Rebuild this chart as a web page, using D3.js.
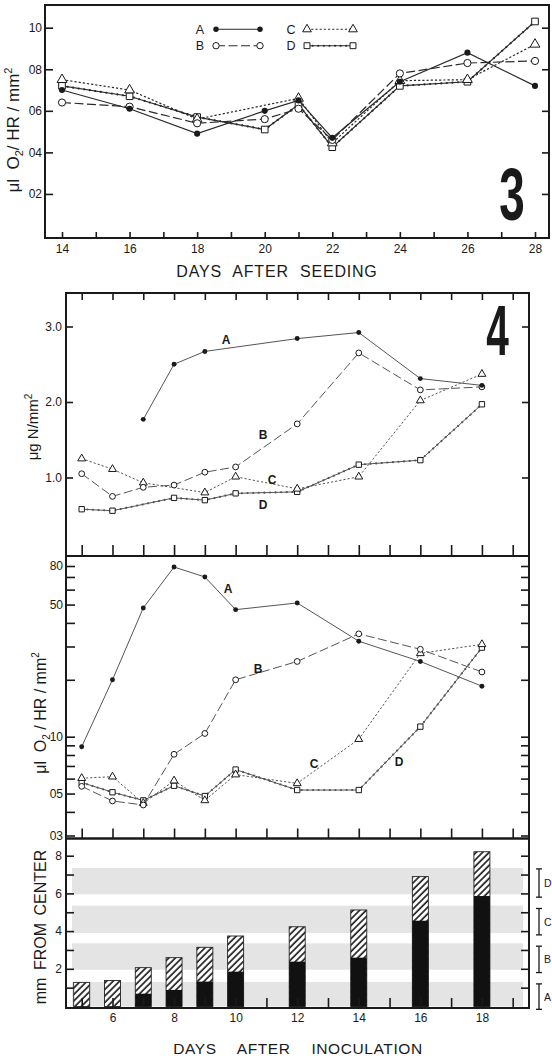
<!DOCTYPE html>
<html><head><meta charset="utf-8">
<script src="https://cdn.jsdelivr.net/npm/d3@7"></script>
<style>
body{margin:0;background:#fff}
svg{display:block}
text{font-family:"Liberation Sans",Arial,sans-serif;fill:#1a1a1a}
</style>
</head><body>
<svg id="c" width="552" height="1059"></svg>
<script>
// ================= DATA =================
// Fig. 3 : O2 uptake vs days after seeding
const seriesKeys = ["A","B","C","D"];
const f3DaysA = [14,16,18,20,21,22,24,26,28];
const f3A = [0.70,0.61,0.49,0.60,0.65,0.47,0.74,0.88,0.72];
const f3DaysB = [14,16,18,20,21,22,24,26,28];
const f3B = [0.64,0.62,0.54,0.56,0.61,0.46,0.78,0.83,0.84];
const f3DaysC = [14,16,18,21,22,24,26,28];
const f3C = [0.75,0.70,0.56,0.66,0.445,0.745,0.75,0.92];
const f3DaysD = [14,16,18,20,21,22,24,26,28];
const f3D = [0.72,0.67,0.57,0.51,0.63,0.425,0.72,0.74,1.03];
const f3XTicks = [14,15,16,17,18,19,20,21,22,23,24,25,26,27,28];
const f3XLabels = [14,16,18,20,22,24,26,28];
const f3YTicks = [0.2,0.4,0.6,0.8,1.0];
const f3YLabels = ["02","04","06","08","10"];

// Fig. 4 top : ug N / mm2
const nDaysA = [7,8,9,12,14,16,18];
const nA = [1.77,2.50,2.67,2.84,2.92,2.31,2.22];
const nDaysB = [5,6,7,8,9,10,12,14,16,18];
const nB = [1.05,0.75,0.87,0.90,1.07,1.14,1.71,2.65,2.16,2.20];
const nDaysC = [5,6,7,9,10,12,14,16,18];
const nC = [1.25,1.11,0.93,0.80,1.01,0.85,1.01,2.02,2.37];
const nDaysD = [5,6,8,9,10,12,14,16,18];
const nD = [0.58,0.56,0.73,0.70,0.79,0.81,1.17,1.23,1.97];
const nYTicks = [1,2,3];
const nYLabels = ["1.0","2.0","3.0"];

// Fig. 4 middle : ul O2 / HR / mm2 (log)
const oDays = [5,6,7,8,9,10,12,14,16,18];
const oA = [8.85,20,48,79,70,47,51,32,25,18.5];
const oB = [5.46,4.57,4.35,8.07,10.4,20,25,35,29,22];
const oC = [6.03,6.14,4.45,5.85,4.6,6.3,5.66,9.7,27.6,30.8];
const oD = [5.72,5.08,4.6,5.5,4.85,6.7,5.22,5.22,11.3,29.6];
const oMinorTicks = [3,4,5,6,7,8,9,10,20,30,40,50,60,70,80];
const oLabelTicks = [3,5,10,50,80];
const oLabels = ["03","05","10","50","80"];

// Fig. 4 bottom : mm from center
const barDays = [5,6,7,8,9,10,12,14,16,18];
const barTotal = [1.28,1.38,2.06,2.59,3.14,3.74,4.23,5.12,6.89,8.21];
const barBlack = [0,0,0.68,0.88,1.32,1.85,2.38,2.59,4.55,5.86];
const bandLo = [0,1.95,3.9,5.95];
const bandHi = [1.3,3.35,5.35,7.35];
const bracketLo = [-0.15,1.8,3.8,5.8];
const bracketHi = [1.2,3.2,5.2,7.3];
const bYTicks = [1,2,3,4,5,6,7,8];
const bYLabels = [2,4,6,8];
const f4XTicks = [5,6,7,8,9,10,11,12,13,14,15,16,17,18,19];
const f4XLabels = [6,8,10,12,14,16,18];

// ================= DRAWING =================
const svg = d3.select("#c");
const INK = "#1a1a1a";

const defs = svg.append("defs");
const pat = defs.append("pattern").attr("id","hatch").attr("patternUnits","userSpaceOnUse")
  .attr("width",4.6).attr("height",4.6).attr("patternTransform","rotate(45)");
pat.append("rect").attr("width",4.6).attr("height",4.6).attr("fill","#fff");
pat.append("line").attr("x1",1).attr("x2",1).attr("y1",0).attr("y2",4.6)
  .attr("stroke","#222").attr("stroke-width",1.7);

const lineStyle = {
  A:{dash:null}, B:{dash:"9,3.5"}, C:{dash:"2.2,2"}, D:{dash:null}
};

function marker(g, key, px, py, s){
  if(key==="A"){
    g.append("circle").attr("cx",px).attr("cy",py).attr("r",s*0.85).attr("fill",INK);
  } else if(key==="B"){
    g.append("circle").attr("cx",px).attr("cy",py).attr("r",s).attr("fill","#fff")
      .attr("stroke",INK).attr("stroke-width",1);
  } else if(key==="C"){
    g.append("path").attr("transform",`translate(${px},${py})`)
      .attr("d",d3.symbol().type(d3.symbolTriangle).size(s*s*3.2)())
      .attr("fill","#fff").attr("stroke",INK).attr("stroke-width",1);
  } else {
    g.append("path").attr("transform",`translate(${px},${py})`)
      .attr("d",d3.symbol().type(d3.symbolSquare).size(s*s*3.4)())
      .attr("fill","#fff").attr("stroke",INK).attr("stroke-width",1);
  }
}

function series(g, key, days, vals, x, y, o){
  const pts = days.map((d,i)=>[x(d), y(vals[i])]);
  const line = d3.line();
  const p = g.append("path").attr("d",line(pts)).attr("fill","none")
    .attr("stroke",o.color).attr("stroke-width",o.w);
  if(lineStyle[key].dash) p.attr("stroke-dasharray",lineStyle[key].dash);
  if(key==="D"){
    g.append("path").attr("d",line(pts)).attr("fill","none").attr("stroke",o.color)
      .attr("stroke-width",2.1).attr("stroke-linecap","round").attr("stroke-dasharray","0.1,5.5");
  }
  pts.forEach(pt=>marker(g,key,pt[0],pt[1],o.ms));
}

function styleAxis(g, size){
  g.select(".domain").remove();
  g.selectAll(".tick line").attr("stroke",INK).attr("stroke-width",1.6);
  g.selectAll(".tick text").attr("font-size",size||12).attr("fill",INK)
    .attr("font-family",'"Liberation Sans",Arial,sans-serif');
}

// ---------- Figure 3 ----------
const F3 = {l:45, r:549, t:5, b:238};
const x3 = d3.scaleLinear([14,28],[62,535]);
const y3 = d3.scaleLinear([0,1],[235.5,27.7]);
const g3 = svg.append("g");

g3.append("g").attr("transform",`translate(0,${F3.b})`)
  .call(d3.axisBottom(x3).tickValues(f3XTicks).tickSize(-6).tickPadding(6)
    .tickFormat(d=>f3XLabels.includes(d)?d:""))
  .call(g=>styleAxis(g,12));
g3.append("g").attr("transform",`translate(${F3.l},0)`)
  .call(d3.axisLeft(y3).tickValues(f3YTicks).tickSize(-8).tickPadding(3)
    .tickFormat((d,i)=>f3YLabels[i]))
  .call(g=>styleAxis(g,12));
g3.append("g").attr("transform",`translate(${F3.r},0)`)
  .call(d3.axisRight(y3).tickValues(f3YTicks).tickSize(-7).tickFormat(""))
  .call(g=>styleAxis(g));
g3.append("rect").attr("x",F3.l).attr("y",F3.t).attr("width",F3.r-F3.l).attr("height",F3.b-F3.t)
  .attr("fill","none").attr("stroke",INK).attr("stroke-width",2);

const o3 = {color:"#2a2a2a", w:1.2, ms:3.6};
series(g3,"D",f3DaysD,f3D,x3,y3,o3);
series(g3,"C",f3DaysC,f3C,x3,y3,o3);
series(g3,"B",f3DaysB,f3B,x3,y3,o3);
series(g3,"A",f3DaysA,f3A,x3,y3,o3);

// legend
const legX = {A:[200,216,260], B:[200,216,260], C:[291,307,353], D:[291,307,353]};
const legY = {A:29.3, B:45.7, C:29.3, D:45.7};
seriesKeys.forEach(k=>{
  const [tx,x1,x2] = legX[k], yy = legY[k];
  g3.append("text").attr("x",tx).attr("y",yy+4.5).attr("text-anchor","middle")
    .attr("font-size",12.5).text(k);
  const lg = g3.append("g");
  const sx = d3.scaleLinear([0,1],[x1,x2]);
  series(lg,k,[0,1],[yy,yy],sx,v=>v,{color:"#2a2a2a",w:1.1,ms:3.2});
});

g3.append("text").attr("transform","translate(19,130) rotate(-90)")
  .attr("text-anchor","middle").attr("font-size",17)
  .html('μl&#160;&#160;O<tspan font-size="11" dy="4">2</tspan><tspan dy="-4">/ HR / mm</tspan><tspan font-size="11" dy="-7">2</tspan>');

g3.append("text").attr("x",277).attr("y",277).attr("text-anchor","middle")
  .attr("font-size",16).attr("letter-spacing",0.8).attr("word-spacing",6).text("DAYS AFTER SEEDING");

g3.append("g").attr("transform","translate(512,220) scale(0.62,1)")
  .append("text").attr("text-anchor","middle").attr("font-size",74).attr("font-weight","bold")
  .attr("font-family","DejaVu Sans").attr("fill","#111").text("3");

// ---------- Figure 4 ----------
const F4 = {l:66, r:529, t:293, nb:556, ob:838.5, b:1008};
const x4 = d3.scaleLinear([5,19],[81.7,512.7]);
const yN = d3.scaleLinear([0,3],[553,326.5]);
const yO = d3.scaleLog([3,80],[835.5,566]);
const yB = d3.scaleLinear([0,8],[1006.5,855.7]);
const g4 = svg.append("g");

// bands in bar panel
const bandG = g4.append("g");
bandLo.forEach((lo,i)=>{
  bandG.append("rect").attr("x",F4.l+6).attr("width",F4.r-F4.l-12)
    .attr("y",yB(bandHi[i])).attr("height",yB(lo)-yB(bandHi[i])).attr("fill","#e4e4e4");
});

// bars
const bw = 16;
barDays.forEach((d,i)=>{
  g4.append("rect").attr("x",x4(d)-bw/2).attr("width",bw)
    .attr("y",yB(barTotal[i])).attr("height",yB(0)-yB(barTotal[i]))
    .attr("fill","url(#hatch)").attr("stroke","#222").attr("stroke-width",0.9);
  if(barBlack[i]>0){
    g4.append("rect").attr("x",x4(d)-bw/2).attr("width",bw)
      .attr("y",yB(barBlack[i])).attr("height",yB(0)-yB(barBlack[i])).attr("fill","#111");
  }
});

// x ticks
g4.append("g").attr("transform",`translate(0,${F4.t})`)
  .call(d3.axisTop(x4).tickValues(f4XTicks).tickSize(-7).tickFormat(""))
  .call(g=>styleAxis(g));
g4.append("g").attr("transform",`translate(0,${F4.nb})`)
  .call(d3.axisBottom(x4).tickValues(f4XTicks).tickSize(-11).tickFormat(""))
  .call(g=>styleAxis(g));
g4.append("g").attr("transform",`translate(0,${F4.ob})`)
  .call(d3.axisBottom(x4).tickValues(f4XTicks).tickSize(-10).tickFormat(""))
  .call(g=>styleAxis(g));
g4.append("g").attr("transform",`translate(0,${F4.b})`)
  .call(d3.axisBottom(x4).tickValues(f4XTicks).tickSize(-10).tickPadding(5)
    .tickFormat(d=>f4XLabels.includes(d)?d:""))
  .call(g=>styleAxis(g,12));

// y ticks N
g4.append("g").attr("transform",`translate(${F4.l},0)`)
  .call(d3.axisLeft(yN).tickValues(nYTicks).tickSize(-7).tickPadding(4).tickFormat((d,i)=>nYLabels[i]))
  .call(g=>styleAxis(g,12));
g4.append("g").attr("transform",`translate(${F4.r},0)`)
  .call(d3.axisRight(yN).tickValues(nYTicks).tickSize(-7).tickFormat(""))
  .call(g=>styleAxis(g));
// y ticks O2
g4.append("g").attr("transform",`translate(${F4.l},0)`)
  .call(d3.axisLeft(yO).tickValues(oMinorTicks).tickSize(-9).tickPadding(3)
    .tickFormat(d=>{const i=oLabelTicks.indexOf(d);return i>=0?oLabels[i]:"";}))
  .call(g=>styleAxis(g,12));
g4.append("g").attr("transform",`translate(${F4.r},0)`)
  .call(d3.axisRight(yO).tickValues(oMinorTicks).tickSize(-8).tickFormat(""))
  .call(g=>styleAxis(g));
// y ticks bars
g4.append("g").attr("transform",`translate(${F4.l},0)`)
  .call(d3.axisLeft(yB).tickValues(bYTicks).tickSize(-8).tickPadding(4)
    .tickFormat(d=>bYLabels.includes(d)?d:""))
  .call(g=>styleAxis(g,12));
g4.append("g").attr("transform",`translate(${F4.r},0)`)
  .call(d3.axisRight(yB).tickValues(bYTicks).tickSize(-8).tickFormat(""))
  .call(g=>styleAxis(g));

// frames
[[F4.t,F4.nb],[F4.nb,F4.ob],[F4.ob,F4.b]].forEach(([t,b])=>{
  g4.append("rect").attr("x",F4.l).attr("y",t).attr("width",F4.r-F4.l).attr("height",b-t)
    .attr("fill","none").attr("stroke",INK).attr("stroke-width",2);
});

// N series
const o4 = {color:"#555", w:1, ms:2.9};
series(g4,"D",nDaysD,nD,x4,yN,o4);
series(g4,"C",nDaysC,nC,x4,yN,o4);
series(g4,"B",nDaysB,nB,x4,yN,o4);
series(g4,"A",nDaysA,nA,x4,yN,o4);
// O2 series
series(g4,"D",oDays,oD,x4,yO,o4);
series(g4,"C",oDays,oC,x4,yO,o4);
series(g4,"B",oDays,oB,x4,yO,o4);
series(g4,"A",oDays,oA,x4,yO,o4);

// series letters
const nLab = {A:[226,343.5], B:[263,438.5], C:[272,483.5], D:[263,509]};
const oLab = {A:[228,592.5], B:[258,672.5], C:[314,768], D:[399,766]};
seriesKeys.forEach(k=>{
  g4.append("text").attr("x",nLab[k][0]).attr("y",nLab[k][1]).attr("text-anchor","middle")
    .attr("font-size",12).attr("font-weight","bold").text(k);
  g4.append("text").attr("x",oLab[k][0]).attr("y",oLab[k][1]).attr("text-anchor","middle")
    .attr("font-size",12).attr("font-weight","bold").text(k);
});

// brackets on right
seriesKeys.forEach((k,i)=>{
  const t = yB(bracketHi[i]), b = yB(bracketLo[i]), bx = 539;
  const bg = g4.append("g").attr("stroke",INK).attr("stroke-width",1.3);
  bg.append("line").attr("x1",bx).attr("x2",bx).attr("y1",t).attr("y2",b);
  bg.append("line").attr("x1",bx-3).attr("x2",bx+3).attr("y1",t).attr("y2",t);
  bg.append("line").attr("x1",bx-3).attr("x2",bx+3).attr("y1",b).attr("y2",b);
  g4.append("text").attr("x",544).attr("y",(t+b)/2+4).attr("font-size",10.5).text(k);
});

// axis titles
g4.append("text").attr("transform","translate(38,427) rotate(-90)")
  .attr("text-anchor","middle").attr("font-size",15)
  .html('μg N/mm<tspan font-size="10" dy="-6">2</tspan>');
g4.append("text").attr("transform","translate(46,713) rotate(-90)")
  .attr("text-anchor","middle").attr("font-size",16)
  .html('μl&#160;&#160;O<tspan font-size="10" dy="4">2</tspan><tspan dy="-4"> / HR / mm</tspan><tspan font-size="10" dy="-7">2</tspan>');
g4.append("text").attr("transform","translate(46,927) rotate(-90)")
  .attr("text-anchor","middle").attr("font-size",16).attr("word-spacing",3).text("mm FROM CENTER");

g4.append("text").attr("x",298).attr("y",1054).attr("text-anchor","middle")
  .attr("font-size",15.5).attr("letter-spacing",0.6).attr("word-spacing",16).text("DAYS AFTER INOCULATION");

g4.append("g").attr("transform","translate(497.5,355) scale(0.58,1)")
  .append("text").attr("text-anchor","middle").attr("font-size",70).attr("font-weight","bold")
  .attr("font-family","DejaVu Sans").attr("fill","#111").text("4");
</script>
</body></html>
